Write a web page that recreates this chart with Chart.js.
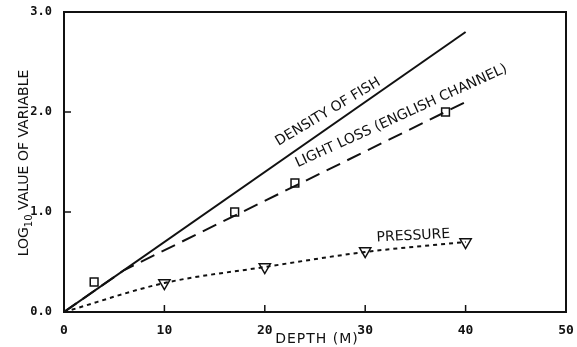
<!DOCTYPE html>
<html>
<head>
<meta charset="utf-8">
<script src="https://cdn.jsdelivr.net/npm/chart.js@4"></script>
<style>
  html, body { margin: 0; padding: 0; background: #fff; }
  #wrap { width: 577px; height: 347px; }
</style>
</head>
<body>
<div id="wrap"><canvas id="chart" width="577" height="347"></canvas></div>
<script>
// Data (depth in metres, log10 value)
const fishDepth = [0, 40];
const fishValue = [0, 2.8];

const lightLineDepth = [0, 6, 40];
const lightLineValue = [0, 0.42, 2.1];
const lightPointDepth = [3, 17, 23, 38];
const lightPointValue = [0.3, 1.0, 1.29, 2.0];

const pressureDepth = [0, 10, 20, 30, 40];
const pressureValue = [0, 0.29, 0.45, 0.6, 0.7];
const pressurePointDepth = [10, 20, 30, 40];
const pressurePointValue = [0.29, 0.45, 0.61, 0.7];

const xTicks = [0, 10, 20, 30, 40, 50];
const yTicks = [0, 1, 2, 3];

const curveLabels = [
  { text: 'DENSITY OF FISH', x: 26.3, y: 2.0, angle: -31 },
  { text: 'LIGHT LOSS (ENGLISH CHANNEL)', x: 33.6, y: 1.96, angle: -24.5 },
  { text: 'PRESSURE', x: 34.8, y: 0.76, angle: -3 }
];

function pts(xs, ys) {
  return xs.map((x, i) => ({ x: x, y: ys[i] }));
}

const ink = '#111';
const font = '"DejaVu Sans", sans-serif';
const tickFont = '"DejaVu Sans Mono", monospace';

// Draws the frame, inward ticks, curve labels and the axis titles
const decorPlugin = {
  id: 'decor',
  afterDatasetsDraw(chart) {
    const ctx = chart.ctx;
    const a = chart.chartArea;
    const xs = chart.scales.x;
    const ys = chart.scales.y;
    ctx.save();
    ctx.strokeStyle = ink;
    ctx.lineWidth = 2;
    ctx.strokeRect(a.left, a.top, a.right - a.left, a.bottom - a.top);

    ctx.lineWidth = 1.5;
    xTicks.slice(1, -1).forEach(function(v) {
      const px = xs.getPixelForValue(v);
      ctx.beginPath();
      ctx.moveTo(px, a.bottom);
      ctx.lineTo(px, a.bottom - 7);
      ctx.stroke();
    });
    yTicks.slice(1, -1).forEach(function(v) {
      const py = ys.getPixelForValue(v);
      ctx.beginPath();
      ctx.moveTo(a.left, py);
      ctx.lineTo(a.left + 7, py);
      ctx.stroke();
    });

    ctx.fillStyle = ink;
    ctx.textAlign = 'center';
    ctx.textBaseline = 'middle';
    ctx.font = '14px ' + font;
    curveLabels.forEach(function(l) {
      ctx.save();
      ctx.translate(xs.getPixelForValue(l.x), ys.getPixelForValue(l.y));
      ctx.rotate(l.angle * Math.PI / 180);
      ctx.fillText(l.text, 0, 0);
      ctx.restore();
    });

    // x axis title
    ctx.save();
    ctx.letterSpacing = '1px';
    ctx.font = '14px ' + font;
    ctx.textBaseline = 'middle';
    ctx.fillText('DEPTH (M)', (a.left + a.right) / 2 + 2, 339);
    ctx.restore();

    // y axis title: LOG10 VALUE OF VARIABLE, with 10 as subscript
    ctx.save();
    ctx.translate(28, 163);
    ctx.rotate(-Math.PI / 2);
    ctx.textBaseline = 'alphabetic';
    ctx.textAlign = 'left';
    const big = '14px ' + font;
    const small = '10px ' + font;
    ctx.font = big;
    const w1 = ctx.measureText('LOG').width;
    const w3 = ctx.measureText(' VALUE OF VARIABLE').width;
    ctx.font = small;
    const w2 = ctx.measureText('10').width;
    const x0 = -(w1 + w2 + w3) / 2;
    ctx.font = big;
    ctx.fillText('LOG', x0, 0);
    ctx.font = small;
    ctx.fillText('10', x0 + w1, 4);
    ctx.font = big;
    ctx.fillText(' VALUE OF VARIABLE', x0 + w1 + w2, 0);
    ctx.restore();

    ctx.restore();
  }
};

new Chart(document.getElementById('chart'), {
  type: 'scatter',
  data: {
    datasets: [
      {
        label: 'Density of fish',
        data: pts(fishDepth, fishValue),
        showLine: true,
        borderColor: ink,
        borderWidth: 2,
        pointRadius: 0
      },
      {
        label: 'Light loss',
        data: pts(lightLineDepth, lightLineValue),
        showLine: true,
        borderColor: ink,
        borderWidth: 2,
        borderDash: [15, 8],
        pointRadius: 0
      },
      {
        label: 'Light loss points',
        data: pts(lightPointDepth, lightPointValue),
        pointStyle: 'rect',
        pointRadius: 5.5,
        backgroundColor: '#fff',
        borderColor: ink,
        borderWidth: 1.5
      },
      {
        label: 'Pressure',
        data: pts(pressureDepth, pressureValue),
        showLine: true,
        cubicInterpolationMode: 'monotone',
        borderColor: ink,
        borderWidth: 2,
        borderDash: [4, 4],
        pointRadius: 0
      },
      {
        label: 'Pressure points',
        data: pts(pressurePointDepth, pressurePointValue),
        pointStyle: 'triangle',
        rotation: 180,
        pointRadius: 6.5,
        backgroundColor: '#fff',
        borderColor: ink,
        borderWidth: 1.5
      },
      {
        label: 'centre dots',
        data: pts(lightPointDepth.concat(pressurePointDepth), lightPointValue.concat(pressurePointValue)),
        pointStyle: 'circle',
        pointRadius: 1,
        backgroundColor: ink,
        borderWidth: 0
      }
    ]
  },
  options: {
    responsive: false,
    animation: false,
    layout: { padding: { left: 0, top: 12, right: 11, bottom: 0 } },
    plugins: {
      legend: { display: false },
      tooltip: { enabled: false }
    },
    scales: {
      x: {
        type: 'linear',
        min: 0,
        max: 50,
        afterBuildTicks: function(scale) { scale.ticks = xTicks.map(v => ({ value: v })); },
        grid: { display: false },
        border: { display: false },
        ticks: {
          color: ink,
          padding: 3,
          font: { family: tickFont, size: 13, weight: 'bold' }
        },
        afterFit: function(scale) { scale.height = 35; }
      },
      y: {
        type: 'linear',
        min: 0,
        max: 3,
        afterBuildTicks: function(scale) { scale.ticks = yTicks.map(v => ({ value: v })); },
        grid: { display: false },
        border: { display: false },
        ticks: {
          color: ink,
          padding: 4,
          font: { family: tickFont, size: 12, weight: 'bold' },
          callback: function(v) { return v.toFixed(1); }
        },
        afterFit: function(scale) { scale.width = 64; }
      }
    }
  },
  plugins: [decorPlugin]
});
</script>
</body>
</html>
